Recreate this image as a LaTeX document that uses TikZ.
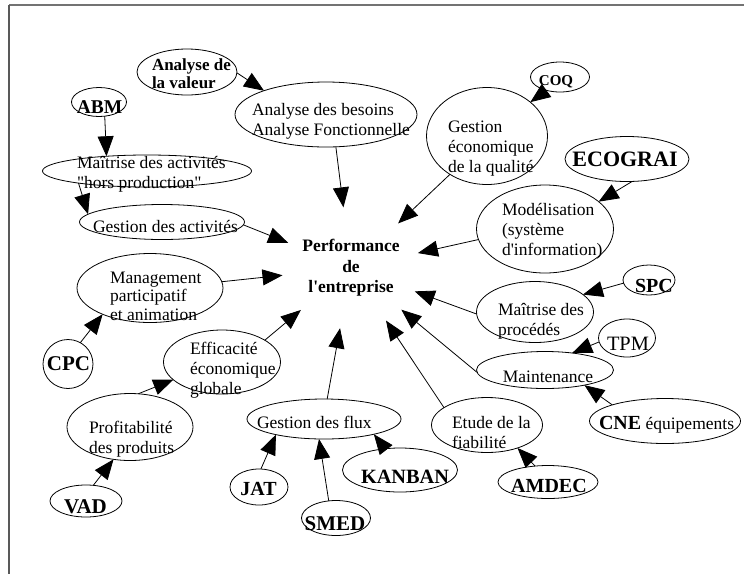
\documentclass[tikz,border=0pt]{standalone}
\usepackage{fontspec}
\setmainfont{Liberation Serif}
\usetikzlibrary{shapes.geometric,arrows.meta}
\newcommand\lns[2][l]{\begin{tabular}[t]{@{}#1@{}}#2\end{tabular}}
\newcommand\fr{\fontsize{17.5}{20}\selectfont}
\newcommand\fb[1]{\fontsize{#1}{20}\selectfont\bfseries}
\begin{document}
\begin{tikzpicture}[x=1pt,y=-1pt,
  ell/.style={draw, ellipse, line width=0.8pt, inner sep=0pt, outer sep=0pt},
  tx/.style={inner sep=0pt, outer sep=0pt, anchor=base west, font=\fr},
  tc/.style={inner sep=0pt, outer sep=0pt, anchor=base, font=\fr},
  arr/.style={-{Triangle[length=20pt,width=16pt]}, line width=0.8pt}]
\useasboundingbox (0,0) rectangle (744,574);
% frame
\draw[line width=1.8pt, black!55] (744,5) -- (9,5);
\draw[line width=1.2pt, black!65] (9,5) -- (9,574);

% central node
\node[inner sep=0pt, outer sep=0pt, ellipse, minimum width=138pt, minimum height=122pt,
  align=center, font=\fontsize{17.5}{20.5}\selectfont\bfseries] (perf) at (351,268)
  {Performance\\de\\l\textquotesingle entreprise};

% ellipses
\node[ell, minimum width=100pt, minimum height=46pt] (av) at (187,72) {};
\node[ell, minimum width=55pt, minimum height=29pt] (abm) at (99,102) {};
\node[ell, minimum width=209pt, minimum height=32pt] (mah) at (147,171) {};
\node[ell, minimum width=165pt, minimum height=35pt] (ga) at (162,222) {};
\node[ell, minimum width=182pt, minimum height=65pt] (ab) at (326,114.5) {};
\node[ell, minimum width=146pt, minimum height=69pt] (mg) at (150,288) {};
\node[ell, minimum width=50pt, minimum height=49pt] (cpc) at (68,364) {};
\node[ell, minimum width=117pt, minimum height=64pt] (eff) at (222,362) {};
\node[ell, minimum width=126pt, minimum height=67pt] (prof) at (130,427) {};
\node[ell, minimum width=72pt, minimum height=32pt] (vad) at (86,501) {};
\node[ell, minimum width=154pt, minimum height=40pt] (gf) at (324,419) {};
\node[ell, minimum width=58pt, minimum height=36pt] (jat) at (259,487) {};
\node[ell, minimum width=69pt, minimum height=35pt] (smed) at (336,518) {};
\node[ell, minimum width=115pt, minimum height=44pt] (kb) at (400,470) {};
\node[ell, minimum width=111pt, minimum height=55pt] (et) at (487,425) {};
\node[ell, minimum width=100pt, minimum height=33pt] (amd) at (548,482) {};
\node[ell, minimum width=117pt, minimum height=61pt] (mp) at (535,312) {};
\node[ell, minimum width=52pt, minimum height=30pt] (spc) at (649,280) {};
\node[ell, minimum width=57pt, minimum height=38pt] (tpm) at (627,338) {};
\node[ell, minimum width=137pt, minimum height=37pt] (mt) at (545,370) {};
\node[ell, minimum width=151pt, minimum height=45pt] (cne) at (665,421) {};
\node[ell, minimum width=121pt, minimum height=97pt] (geq) at (487,136) {};
\node[ell, minimum width=59pt, minimum height=30pt] (coq) at (560,77) {};
\node[ell, minimum width=124pt, minimum height=45pt] (eco) at (627,159) {};
\node[ell, minimum width=137pt, minimum height=88pt] (mod) at (545,229) {};

% texts
\node[tx, font=\fontsize{17}{18}\selectfont\bfseries] (avt) at (152,70) {\lns{Analyse de\\la valeur}};
\node[tc, font=\fb{19.5}] (abmt) at (99.5,113) {ABM};
\node[tx] (maht) at (77,168) {\lns{Maîtrise des activités\\\textquotedbl hors production\textquotedbl}};
\node[tx] (gat) at (93,232) {Gestion des activités};
\node[tx] (abt) at (252,115) {\lns{Analyse des besoins\\Analyse Fonctionnelle}};
\node[tx, font=\fontsize{17.5}{18.5}\selectfont] (mgt) at (110,283) {\lns{Management\\participatif\\et animation}};
\node[tc, font=\fb{21}] (cpct) at (68.5,370) {CPC};
\node[tx] (efft) at (190,354) {\lns{Efficacité\\économique\\globale}};
\node[tx] (proft) at (89,433) {\lns{Profitabilité\\des produits}};
\node[tc, font=\fb{21}] (vadt) at (85.5,513) {VAD};
\node[tx] (gft) at (257,428) {Gestion des flux};
\node[tc, font=\fb{20}] (jatt) at (258.5,495) {JAT};
\node[tc, font=\fb{21}] (smedt) at (335,530) {SMED};
\node[tc, font=\fb{20.3}] (kbt) at (405,483) {KANBAN};
\node[tx] (ett) at (452,428) {\lns{Etude de la\\fiabilité}};
\node[tc, font=\fb{20}] (amdt) at (549,492) {AMDEC};
\node[tx] (mpt) at (498,315) {\lns{Maîtrise des\\procédés}};
\node[tc, font=\fb{20}] (spct) at (654,292) {SPC};
\node[tc, font=\fontsize{20.4}{20}\selectfont] (tpmt) at (628,350) {TPM};
\node[tc] (mtt) at (548,382) {Maintenance};
\node[tx] (cnet) at (599,429) {{\fb{20}CNE} équipements};
\node[tx] (geqt) at (448,132) {\lns{Gestion\\économique\\de la qualité}};
\node[tc, font=\fb{15}] (coqt) at (556,85) {COQ};
\node[tc, font=\fb{22}] (ecot) at (625,166) {ECOGRAI};
\node[tx] (modt) at (502,215) {\lns{Modélisation\\(système\\d\textquotesingle information)}};

% connectors
\draw[arr] (av.-1) -- (ab.159);
\draw[arr] (abm.-68) -- (mah.160);
\draw[arr] (mah.190) -- (ga.174);
\draw[arr] (ga.-2) -- (perf);
\draw[arr] (ab.-73) -- (perf);
\draw[arr] (geq.226) -- (perf);
\draw[arr] (coq.225) -- (geq.38);
\draw[arr] (eco.-77) -- (mod.27);
\draw[arr] (mod.189) -- (perf);
\draw[arr] (spc.187) -- (mp.20);
\draw[arr] (mp.182) -- (perf);
\draw[arr] (tpm.188) -- (mt.32);
\draw[arr] (mt.182.6) -- (perf);
\draw[arr] (cne.163.5) -- (mt.-21);
\draw[arr] (et.158) -- (perf);
\draw[arr] (amd.129) -- (et.-37);
\draw[arr] (kb.125.5) -- (gf.-17);
\draw[arr] (smed.113) -- (gf.-104);
\draw[arr] (jat.84) -- (gf.198);
\draw[arr] (gf.81) -- (perf);
\draw[arr] (eff.27) -- (perf);
\draw[arr] (prof.76) -- (eff.200);
\draw[arr] (vad.65) -- (prof.243);
\draw[arr] (cpc.60) -- (mg.209);
\draw[arr] (mg.5) -- (perf);
\end{tikzpicture}
\end{document}
